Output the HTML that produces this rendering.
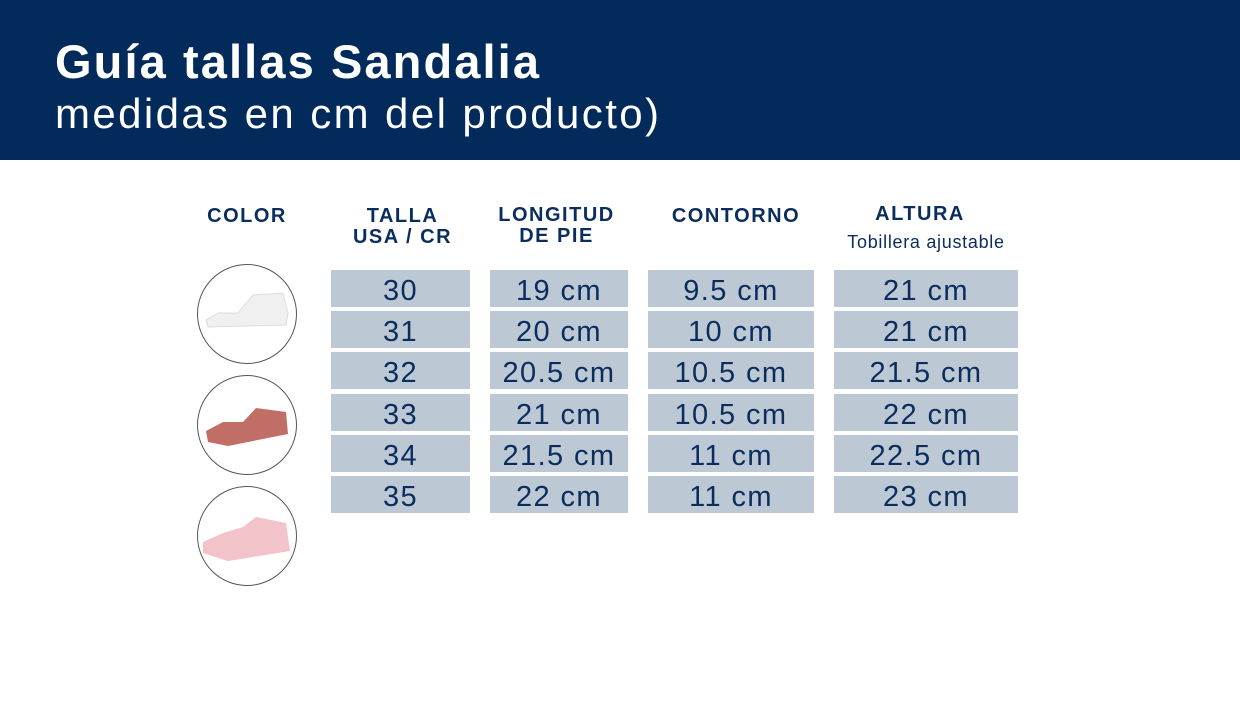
<!DOCTYPE html>
<html><head><meta charset="utf-8"><style>
body{margin:0;width:1240px;height:720px;background:#fff;position:relative;overflow:hidden;font-family:"Liberation Sans",sans-serif;color:#0b2d5e}
.hdr{position:absolute;left:0;top:0;width:1240px;height:160px;background:#022a5a}
.t1{position:absolute;left:55px;top:34px;font-size:47px;font-weight:bold;color:#fff;letter-spacing:2.1px}
.t2{position:absolute;left:55px;top:90px;font-size:42px;color:#fff;letter-spacing:2.4px}
.h{position:absolute;font-weight:bold;font-size:20px;text-align:center;line-height:21px;letter-spacing:1.5px}
.c{position:absolute;background:#bdc8d5;height:37px;text-align:center;font-size:29px;line-height:42px;letter-spacing:1.4px}
.circ{position:absolute;width:98px;height:98px;border:1px solid #555;border-radius:50%;left:197px}
</style></head><body>
<div class="hdr"></div>
<div class="t1">Guía tallas Sandalia</div>
<div class="t2">medidas en cm del producto)</div>
<div class="h" style="left:197px;top:206px;width:100px">COLOR</div>
<div class="h" style="left:331px;top:206px;width:143px">TALLA<br>USA / CR</div>
<div class="h" style="left:490px;top:205px;width:133px">LONGITUD<br>DE PIE</div>
<div class="h" style="left:648px;top:206px;width:176px">CONTORNO</div>
<div class="h" style="left:834px;top:204px;width:172px">ALTURA</div>
<div style="position:absolute;left:834px;top:232px;width:184px;text-align:center;font-size:18px;letter-spacing:0.7px">Tobillera ajustable</div>
<div class="circ" style="top:264px"><svg width="98" height="98"><path d="M8 55 L20 48 L40 48 L55 30 L85 28 L90 48 L88 60 L10 62Z" fill="#f0f0f0" stroke="#ddd"/></svg></div>
<div class="circ" style="top:375px"><svg width="98" height="98"><path d="M8 55 L25 46 L45 46 L58 32 L88 36 L90 58 L30 70 L10 66Z" fill="#c06e66"/></svg></div>
<div class="circ" style="top:486px"><svg width="98" height="98"><path d="M5 55 L25 46 L45 40 L58 30 L88 36 L92 64 L30 74 L5 66Z" fill="#f2c3c8"/></svg></div>
<div id="rows"></div>
<script>
var d=[["30","19 cm","9.5 cm","21 cm"],["31","20 cm","10 cm","21 cm"],["32","20.5 cm","10.5 cm","21.5 cm"],["33","21 cm","10.5 cm","22 cm"],["34","21.5 cm","11 cm","22.5 cm"],["35","22 cm","11 cm","23 cm"]];
var cx=[[331,139],[490,138],[648,166],[834,184]],ys=[270,311,352,394,435,476],h="";
d.forEach(function(r,i){r.forEach(function(v,j){h+='<div class="c" style="left:'+cx[j][0]+'px;width:'+cx[j][1]+'px;top:'+ys[i]+'px">'+v+'</div>';});});
document.getElementById('rows').innerHTML=h;
</script>
</body></html>
